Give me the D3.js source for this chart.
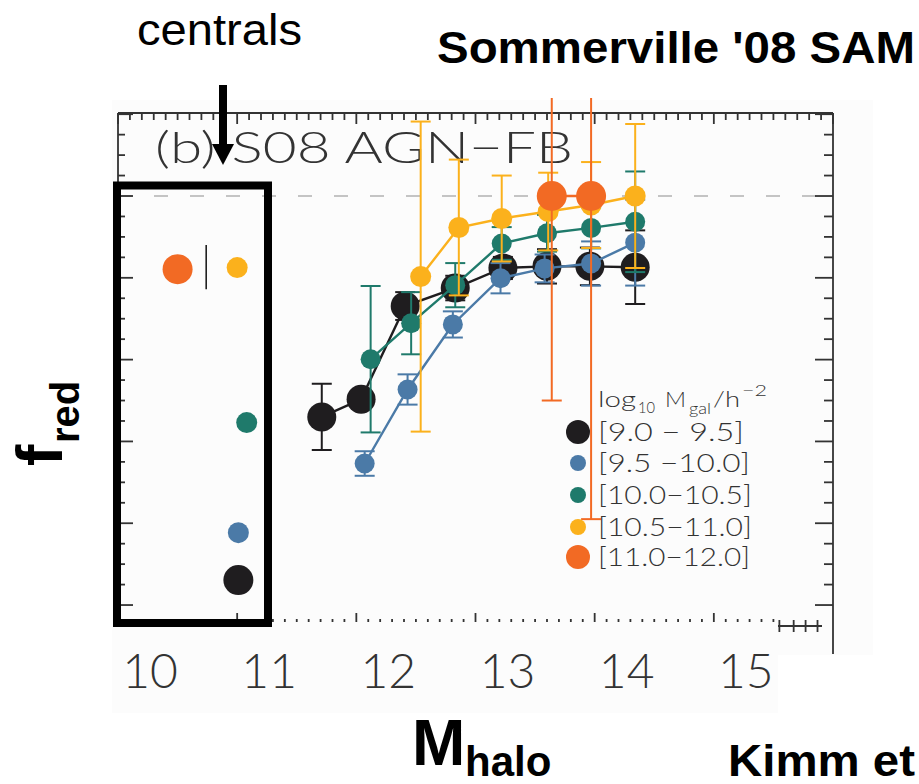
<!DOCTYPE html>
<html>
<head>
<meta charset="utf-8">
<script src="https://cdn.jsdelivr.net/npm/d3@7"></script>
<style>
body { margin: 0; background: #fff; }
</style>
</head>
<body>
<script>
// tamanho da figura
var width = 919;
var height = 784;

// satelites, por bin de massa do halo (log10 Mhalo)
var blackX = [11.71, 12.04, 12.41, 12.83, 13.23, 13.60, 13.96, 14.34];
var blackY = [0.460, 0.503, 0.731, 0.775, 0.824, 0.828, 0.828, 0.826];
var blackE = [0.081, 0.020, 0.034, 0.030, 0.027, 0.042, 0.046, 0.090];

var blueX = [12.07, 12.43, 12.81, 13.21, 13.58, 13.97, 14.34];
var blueY = [0.346, 0.527, 0.686, 0.799, 0.823, 0.835, 0.886];
var blueE = [0.030, 0.037, 0.032, 0.037, 0.034, 0.054, 0.105];

var tealX = [12.12, 12.46, 12.83, 13.22, 13.60, 13.97, 14.34];
var tealY = [0.601, 0.689, 0.782, 0.884, 0.909, 0.922, 0.937];
var tealE = [0.179, 0.076, 0.054, 0.040, 0.045, 0.050, 0.123];

var yellowX = [12.54, 12.86, 13.22, 13.61, 13.97, 14.34];
var yellowY = [0.803, 0.923, 0.945, 0.962, 0.978, 1.000];
var yellowE = [0.379, 0.166, 0.105, 0.095, 0.105, 0.176];

var orangeX = [13.64, 13.97];
var orangeY = [1.000, 1.000];
var orangeE = [0.500, 0.790];

// centrais (dentro da caixa)
var centralX = [10.50, 11.00, 11.08, 11.01, 11.01];
var centralY = [0.821, 0.825, 0.446, 0.177, 0.061];
var centralSerie = ["orange", "yellow", "teal", "blue", "black"];
var centralLineX = 10.74, centralLineY = 0.826, centralLineE = 0.054;

var legendLabels = ["[9.0 \u2212 9.5]", "[9.5 \u221210.0]", "[10.0\u221210.5]", "[10.5\u221211.0]", "[11.0\u221212.0]"];
var xTickLabels = [10, 11, 12, 13, 14, 15];

var cores = {black: "#1f1d1f", blue: "#4b7aa7", teal: "#1f7a6b", yellow: "#fbb11c", orange: "#f26a24"};
var raios = {black: 14.5, blue: 10, teal: 10, yellow: 10.5, orange: 15};
var raiosLegenda = {black: 12, blue: 8, teal: 8, yellow: 8, orange: 12};

var series = [
	{nome: "black", x: blackX, y: blackY, e: blackE},
	{nome: "blue", x: blueX, y: blueY, e: blueE},
	{nome: "teal", x: tealX, y: tealY, e: tealE},
	{nome: "yellow", x: yellowX, y: yellowY, e: yellowE},
	{nome: "orange", x: orangeX, y: orangeY, e: orangeE}
];

var svg = d3.select("body").append("svg")
	.attr("width", width)
	.attr("height", height);

var x = d3.scaleLinear().domain([10, 16]).range([118, 833]);
var y = d3.scaleLinear().domain([-0.04, 1.2]).range([621.4, 114.2]);

// fundo levemente cinza da figura original
svg.append("rect").attr("x", 112).attr("y", 100).attr("width", 761).attr("height", 613).attr("fill", "#fcfcfc");
svg.append("rect").attr("x", 778).attr("y", 655).attr("width", 95).attr("height", 58).attr("fill", "#fff");

var fonteFina = "'Lato Light', 'Open Sans Light', Lato, sans-serif";

// linha tracejada em f=1
svg.append("line")
	.attr("x1", x(10)).attr("x2", x(16))
	.attr("y1", y(1)).attr("y2", y(1))
	.attr("stroke", "#c4c4c4").attr("stroke-width", 2)
	.attr("stroke-dasharray", "14,22");

// eixos
var minorX = d3.range(100, 161).map(d => d / 10);
var minorY = d3.range(0, 25).map(d => d / 20);
function isMajorX(d) { return Math.abs(d - Math.round(d)) < 1e-6; }
function isMajorY(d) { return Math.abs(d * 5 - Math.round(d * 5)) < 1e-6; }

var eixos = svg.append("g").attr("stroke", "#333").attr("stroke-width", 1.8);
// topo
eixos.append("line").attr("x1", x(10)).attr("x2", x(16)).attr("y1", 113).attr("y2", 113);
eixos.selectAll(".tt").data(minorX).enter().append("line")
	.attr("x1", d => x(d)).attr("x2", d => x(d))
	.attr("y1", 113).attr("y2", d => isMajorX(d) ? 124 : 120);
// direita
eixos.append("line").attr("x1", 833).attr("x2", 833).attr("y1", 113).attr("y2", 654);
eixos.selectAll(".tr").data(minorY).enter().append("line")
	.attr("x1", 833).attr("x2", d => isMajorY(d) ? 815 : 824)
	.attr("y1", d => y(d)).attr("y2", d => y(d));
// esquerda
eixos.append("line").attr("x1", 118).attr("x2", 118).attr("y1", 113).attr("y2", 621);
eixos.selectAll(".tl").data(minorY).enter().append("line")
	.attr("x1", 118).attr("x2", d => isMajorY(d) ? 133 : 125)
	.attr("y1", d => y(d)).attr("y2", d => y(d));
// base (só ticks)
eixos.selectAll(".tb").data(minorX.filter(d => d <= 15.5)).enter().append("line")
	.attr("x1", d => x(d)).attr("x2", d => x(d))
	.attr("y1", 622).attr("y2", d => isMajorX(d) ? 613 : 619);
eixos.append("line").attr("x1", 778).attr("x2", 822).attr("y1", 626).attr("y2", 626);
eixos.selectAll(".tc").data([15.55, 15.67, 15.77, 15.87]).enter().append("line")
	.attr("x1", d => x(d)).attr("x2", d => x(d))
	.attr("y1", 620).attr("y2", 632);

// rótulos do eixo x (deslocados como na figura)
svg.selectAll(".xl").data(xTickLabels).enter().append("text")
	.attr("x", d => x(d) + 32)
	.attr("y", 688)
	.attr("text-anchor", "middle")
	.attr("font-family", fonteFina)
	.attr("font-weight", 300)
	.attr("font-size", 48)
	.attr("fill", "#333")
	.text(d => d);

// título interno
svg.append("text")
	.attr("x", 155).attr("y", 163)
	.attr("textLength", 418).attr("lengthAdjust", "spacingAndGlyphs")
	.attr("font-family", fonteFina).attr("font-weight", 300)
	.attr("font-size", 43).attr("fill", "#333")
	.text("(b) S08 AGN\u2212FB");

// dados
var clip = svg.append("clipPath").attr("id", "clip")
	.append("rect").attr("x", 0).attr("y", 98).attr("width", width).attr("height", 600);
var plot = svg.append("g").attr("clip-path", "url(#clip)");
var linha = d3.line().x(d => x(d[0])).y(d => y(d[1]));

series.forEach(function (s) {
	var pts = s.x.map((v, i) => [v, s.y[i], s.e[i]]);
	var g = plot.append("g");
	var cor = cores[s.nome];
	g.append("path").datum(pts)
		.attr("d", linha).attr("fill", "none")
		.attr("stroke", cor).attr("stroke-width", 2.4);
	g.selectAll(".eb").data(pts).enter().append("line")
		.attr("x1", d => x(d[0])).attr("x2", d => x(d[0]))
		.attr("y1", d => y(d[1] - d[2])).attr("y2", d => y(d[1] + d[2]))
		.attr("stroke", cor).attr("stroke-width", 2);
	[-1, 1].forEach(function (sinal) {
		g.selectAll(".cap" + sinal).data(pts).enter().append("line")
			.attr("x1", d => x(d[0]) - 10).attr("x2", d => x(d[0]) + 10)
			.attr("y1", d => y(d[1] + sinal * d[2])).attr("y2", d => y(d[1] + sinal * d[2]))
			.attr("stroke", cor).attr("stroke-width", 2);
	});
	g.selectAll("circle").data(pts).enter().append("circle")
		.attr("cx", d => x(d[0])).attr("cy", d => y(d[1]))
		.attr("r", raios[s.nome]).attr("fill", cor);
});

// centrais
svg.append("line")
	.attr("x1", x(centralLineX)).attr("x2", x(centralLineX))
	.attr("y1", y(centralLineY - centralLineE)).attr("y2", y(centralLineY + centralLineE))
	.attr("stroke", "#111").attr("stroke-width", 1.5);
svg.selectAll(".cen").data(centralX).enter().append("circle")
	.attr("cx", d => x(d))
	.attr("cy", (d, i) => y(centralY[i]))
	.attr("r", (d, i) => centralSerie[i] === "orange" || centralSerie[i] === "black" ? 15 : 10.5)
	.attr("fill", (d, i) => cores[centralSerie[i]]);

// caixa dos centrais
svg.append("rect")
	.attr("x", 117).attr("y", 185.5).attr("width", 151).attr("height", 437.5)
	.attr("fill", "none").attr("stroke", "#000").attr("stroke-width", 8);

// legenda
var leg = svg.append("g").attr("font-family", fonteFina).attr("font-weight", 300).attr("fill", "#333");
var partesTitulo = [
	{t: "log", x0: 598, x1: 636, y: 407, s: 22},
	{t: "10", x0: 638, x1: 655, y: 413, s: 15},
	{t: "M", x0: 665, x1: 686, y: 407, s: 22},
	{t: "gal", x0: 689, x1: 711, y: 414, s: 15},
	{t: "/h", x0: 713, x1: 740, y: 407, s: 22},
	{t: "\u22122", x0: 742, x1: 767, y: 396, s: 15}
];
leg.selectAll(".tit").data(partesTitulo).enter().append("text")
	.attr("x", d => d.x0).attr("y", d => d.y)
	.attr("textLength", d => d.x1 - d.x0)
	.attr("lengthAdjust", "spacingAndGlyphs")
	.attr("font-size", d => d.s)
	.text(d => d.t);

var legY = [432, 463, 495, 527, 557];
var legFim = [744, 750, 752, 752, 750];
var nomesSerie = series.map(s => s.nome);
leg.selectAll("circle").data(nomesSerie).enter().append("circle")
	.attr("cx", 578).attr("cy", (d, i) => legY[i])
	.attr("r", d => raiosLegenda[d]).attr("fill", d => cores[d]);
leg.selectAll(".lt").data(legendLabels).enter().append("text")
	.attr("x", 598).attr("y", (d, i) => legY[i] + 9)
	.attr("textLength", (d, i) => legFim[i] - 598)
	.attr("lengthAdjust", "spacingAndGlyphs")
	.attr("font-size", 26)
	.text(d => d);

// anotações externas
svg.append("text")
	.attr("x", 137).attr("y", 45)
	.attr("textLength", 165).attr("lengthAdjust", "spacingAndGlyphs")
	.attr("font-family", "'Liberation Sans', Arial, sans-serif")
	.attr("font-size", 44).attr("fill", "#000")
	.text("centrals");
svg.append("rect").attr("x", 219).attr("y", 85).attr("width", 8).attr("height", 62).attr("fill", "#000");
svg.append("path").attr("d", "M212,144 L234,144 L223,165 Z").attr("fill", "#000");

svg.append("text")
	.attr("x", 437).attr("y", 63)
	.attr("textLength", 478).attr("lengthAdjust", "spacingAndGlyphs")
	.attr("font-family", "'Liberation Sans', Arial, sans-serif")
	.attr("font-weight", "bold").attr("font-size", 45).attr("fill", "#000")
	.text("Sommerville '08 SAM");

var fr = svg.append("text")
	.attr("transform", "translate(62,466) rotate(-90)")
	.attr("font-family", "'Liberation Sans', Arial, sans-serif")
	.attr("font-weight", "bold").attr("fill", "#000");
fr.append("tspan").attr("x", 0).attr("y", 0).attr("font-size", 64).text("f");
fr.append("tspan").attr("x", 23).attr("y", 17).attr("font-size", 40).text("red");

var mh = svg.append("text")
	.attr("font-family", "'Liberation Sans', Arial, sans-serif")
	.attr("font-weight", "bold").attr("fill", "#000");
mh.append("tspan").attr("x", 412).attr("y", 765).attr("font-size", 64).text("M");
mh.append("tspan").attr("x", 465).attr("y", 776).attr("font-size", 42).text("halo");

svg.append("text")
	.attr("x", 728).attr("y", 776)
	.attr("textLength", 187).attr("lengthAdjust", "spacingAndGlyphs")
	.attr("font-family", "'Liberation Sans', Arial, sans-serif")
	.attr("font-weight", "bold").attr("font-size", 44).attr("fill", "#000")
	.text("Kimm et");
</script>
</body>
</html>
